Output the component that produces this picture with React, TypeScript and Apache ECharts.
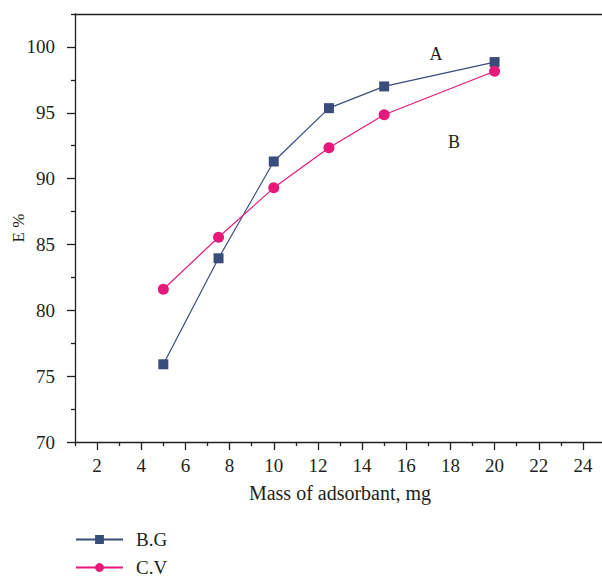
import React, { useEffect, useRef } from "react";
import * as echarts from "echarts";

const massValues = [5, 7.5, 10, 12.5, 15, 20];
const bgValues = [75.9, 83.95, 91.3, 95.35, 97.0, 98.85];
const cvValues = [81.6, 85.55, 89.3, 92.35, 94.85, 98.15];
const xTickLabels = [2, 4, 6, 8, 10, 12, 14, 16, 18, 20, 22, 24];
const xMinorTicks = [1, 3, 5, 7, 9, 11, 13, 15, 17, 19, 21, 23, 25];
const yTickLabels = [70, 75, 80, 85, 90, 95, 100];
const yMinorTicks = [72.5, 77.5, 82.5, 87.5, 92.5, 97.5, 102.5];
const seriesNames = ["B.G", "C.V"];
const curveLabels = ["A", "B"];

const FONT = "Liberation Serif";
const TEXT = "#231f20";

export default function App() {
  const ref = useRef<HTMLDivElement>(null);
  useEffect(() => {
    if (!ref.current) return;
    const chart = echarts.init(ref.current, undefined, { renderer: "svg" });
    const axisLine = { show: true, lineStyle: { color: TEXT, width: 1.3 } };
    chart.setOption({
      animation: false,
      grid: { left: 75, top: 14, right: -3, bottom: 136, containLabel: false, outerBoundsMode: "none" },
      legend: {
        orient: "vertical",
        left: 75,
        top: 530,
        padding: 0,
        itemWidth: 47,
        itemHeight: 11,
        itemGap: 9,
        data: seriesNames,
        textStyle: { fontFamily: FONT, fontSize: 19, color: TEXT, padding: [0, 0, 0, 8] },
      },
      xAxis: [
        {
          type: "value",
          min: 1,
          max: 25,
          position: "bottom",
          axisLine,
          splitLine: { show: false },
          axisTick: { show: true, customValues: xTickLabels, length: 8, lineStyle: { color: TEXT, width: 1.3 } },
          axisLabel: { customValues: xTickLabels, margin: 14, fontFamily: FONT, fontSize: 19, color: TEXT },
          name: "Mass of adsorbant, mg",
          nameLocation: "middle",
          nameGap: 41,
          nameTextStyle: { fontFamily: FONT, fontSize: 20, color: TEXT },
        },
        {
          type: "value",
          min: 1,
          max: 25,
          position: "bottom",
          axisLine: { show: false },
          splitLine: { show: false },
          axisTick: { show: true, customValues: xMinorTicks, length: 4, lineStyle: { color: TEXT, width: 1.3 } },
          axisLabel: { show: false },
        },
        {
          type: "value",
          min: 1,
          max: 25,
          position: "top",
          axisLine,
          splitLine: { show: false },
          axisTick: { show: false },
          axisLabel: { show: false },
        },
      ],
      yAxis: [
        {
          type: "value",
          min: 70,
          max: 102.5,
          position: "left",
          axisLine,
          splitLine: { show: false },
          axisTick: { show: true, customValues: yTickLabels, length: 8, lineStyle: { color: TEXT, width: 1.3 } },
          axisLabel: { customValues: yTickLabels, margin: 20, fontFamily: FONT, fontSize: 19, color: TEXT },
          name: "E %",
          nameLocation: "middle",
          nameGap: 48,
          nameMoveOverlap: false,
          nameTextStyle: { fontFamily: FONT, fontSize: 17, color: TEXT },
        },
        {
          type: "value",
          min: 70,
          max: 102.5,
          position: "left",
          axisLine: { show: false },
          splitLine: { show: false },
          axisTick: { show: true, customValues: yMinorTicks, length: 4, lineStyle: { color: TEXT, width: 1.3 } },
          axisLabel: { show: false },
        },
      ],
      series: [
        {
          name: seriesNames[0],
          type: "line",
          xAxisIndex: 0,
          yAxisIndex: 0,
          data: massValues.map((x, i) => [x, bgValues[i]]),
          symbol: "rect",
          symbolSize: 10,
          itemStyle: { color: "#394d7c" },
          lineStyle: { color: "#394d7c", width: 1.2 },
        },
        {
          name: seriesNames[1],
          type: "line",
          xAxisIndex: 0,
          yAxisIndex: 0,
          data: massValues.map((x, i) => [x, cvValues[i]]),
          symbol: "circle",
          symbolSize: 11,
          itemStyle: { color: "#e6197a" },
          lineStyle: { color: "#e6197a", width: 1.2 },
        },
      ],
      graphic: [
        {
          type: "text",
          x: 436,
          y: 54,
          style: { text: curveLabels[0], font: `18px "${FONT}"`, fill: TEXT, align: "center", verticalAlign: "middle" },
        },
        {
          type: "text",
          x: 454,
          y: 142,
          style: { text: curveLabels[1], font: `18px "${FONT}"`, fill: TEXT, align: "center", verticalAlign: "middle" },
        },
      ],
    });
    return () => chart.dispose();
  }, []);
  return <div ref={ref} style={{ width: 602, height: 578, position: "absolute", left: 0, top: 0 }} />;
}
